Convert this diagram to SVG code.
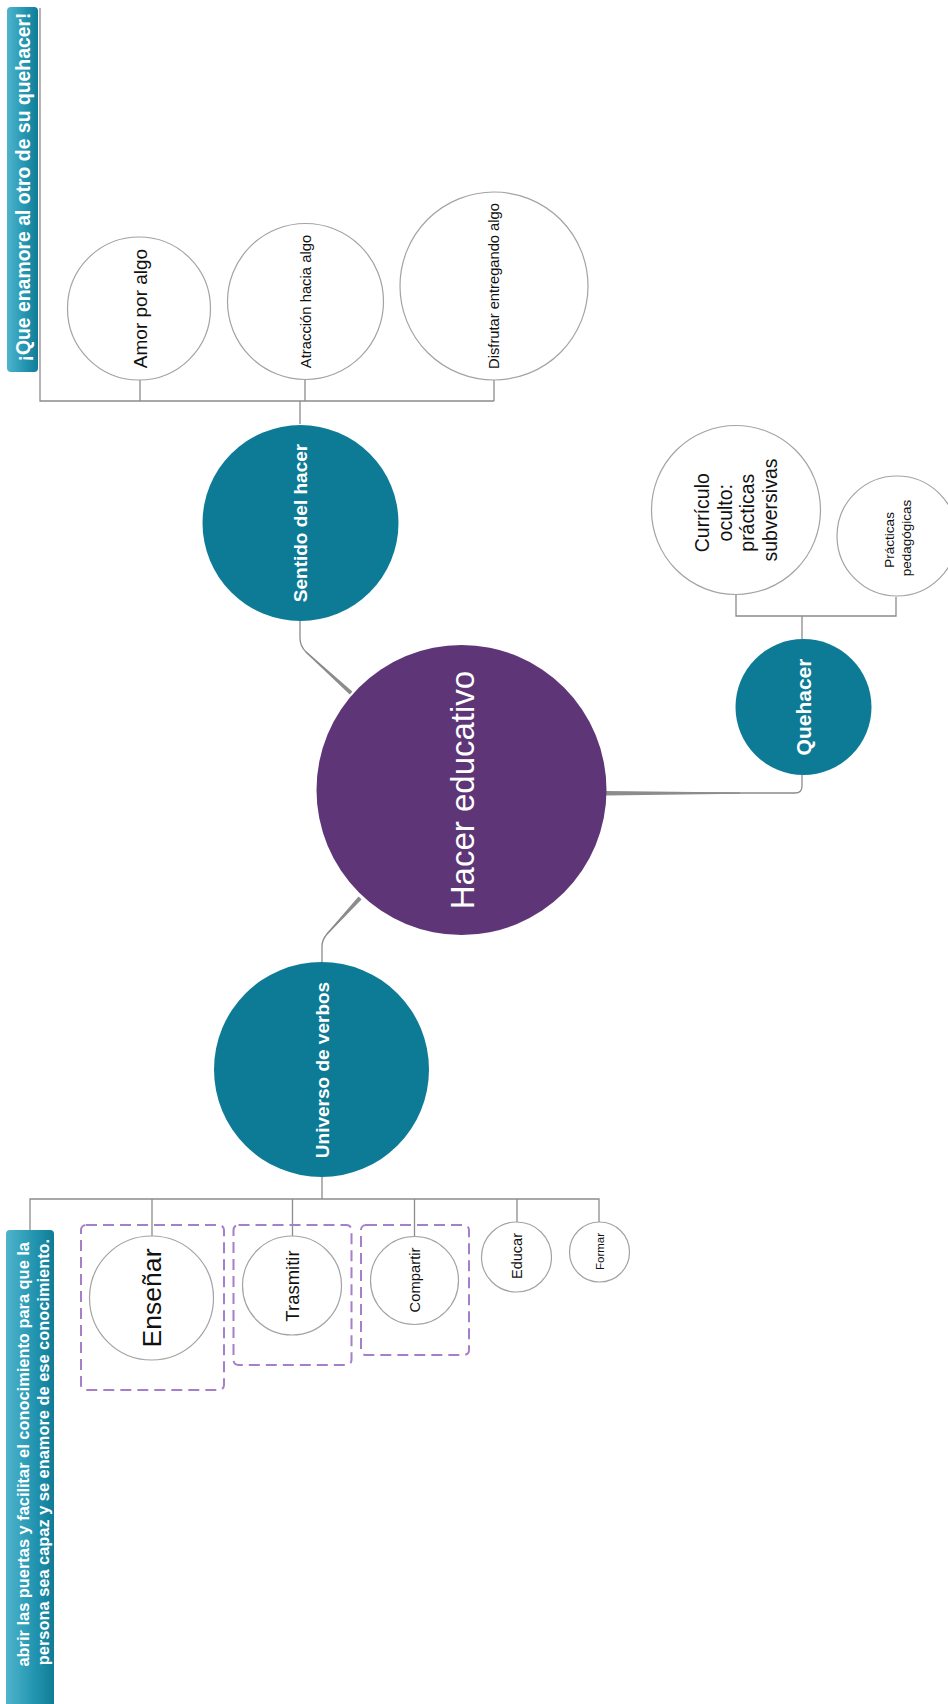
<svg xmlns="http://www.w3.org/2000/svg" width="948" height="1704" viewBox="0 0 948 1704">
  <defs>
    <linearGradient id="labelFill" x1="0" y1="0" x2="1" y2="0">
      <stop offset="0" stop-color="#4fb4cb"/>
      <stop offset="0.55" stop-color="#2597b2"/>
      <stop offset="1" stop-color="#0f7c97"/>
    </linearGradient>
    <style>
      .bg { fill: #ffffff; }
      .line { fill: none; stroke: #8c8c8c; stroke-width: 1.3; }
      .taper { fill: #8c8c8c; }
      .leaf { fill: #ffffff; stroke: #a3a3a3; stroke-width: 1.2; }
      .topic { fill: #0e7b96; }
      .central { fill: #5e3576; }
      .label { fill: url(#labelFill); }
      .group { fill: none; stroke: #a67fca; stroke-width: 2; stroke-dasharray: 11 6; }
      text { font-family: "Liberation Sans", Arial, sans-serif; text-anchor: middle; dominant-baseline: central; }
      .dark { fill: #111111; }
      .light { fill: #ffffff; }
      .bold { font-weight: bold; }
    </style>
  </defs>
  <rect class="bg" x="0" y="0" width="948" height="1704"/>

  <!-- connectors -->
  <g id="connectors">
    <!-- Sentido del hacer: children bracket -->
    <path class="line" d="M40,8 V401 H494 M140,380 V401 M305,380 V401 M494,380 V401 M300,401 V424"/>
    <!-- Sentido del hacer to center -->
    <path class="line" d="M300,621 V638 Q300,646 306,652 L351,693"/>
    <polygon class="taper" points="305.6,652.4 349.7,694.5 352.3,691.5 306.4,651.6"/>
    <!-- center to Universo de verbos -->
    <path class="line" d="M360,898 L327,934 Q322,940 322,946 V962"/>
    <polygon class="taper" points="358.5,896.6 361.5,899.4 327.4,934.4 326.6,933.6"/>
    <!-- center to Quehacer -->
    <path class="line" d="M606,793 H795 Q802,793 802,786 V775"/>
    <polygon class="taper" points="606,791 606,795.4 740,793.8 740,792.4"/>
    <!-- Quehacer: children bracket -->
    <path class="line" d="M802,639 V616 M736,595 V616 H896 V597"/>
    <!-- Universo de verbos: children bracket -->
    <path class="line" d="M322,1177 V1199 M30,1230 V1199 H599 V1222 M152,1199 V1236 M292.5,1199 V1236 M414.5,1199 V1237 M517,1199 V1222"/>
  </g>

  <!-- central topic -->
  <g id="hacer-educativo">
    <circle class="central" cx="461.5" cy="790" r="145"/>
    <text class="light" transform="translate(462,790) rotate(-90)" font-size="33">Hacer educativo</text>
  </g>

  <!-- main topics -->
  <g id="sentido-del-hacer">
    <circle class="topic" cx="300.5" cy="523" r="98"/>
    <text class="light bold" transform="translate(300,523) rotate(-90)" font-size="19">Sentido del hacer</text>
  </g>
  <g id="quehacer">
    <circle class="topic" cx="803.5" cy="707" r="68"/>
    <text class="light bold" transform="translate(803,707) rotate(-90)" font-size="21">Quehacer</text>
  </g>
  <g id="universo-de-verbos">
    <circle class="topic" cx="321.5" cy="1069.5" r="107.5"/>
    <text class="light bold" transform="translate(322,1070) rotate(-90)" font-size="19">Universo de verbos</text>
  </g>

  <!-- Sentido del hacer subtopics -->
  <g id="amor-por-algo">
    <circle class="leaf" cx="139" cy="308.5" r="71.5"/>
    <text class="dark" transform="translate(140,308.5) rotate(-90)" font-size="19">Amor por algo</text>
  </g>
  <g id="atraccion-hacia-algo">
    <circle class="leaf" cx="305.5" cy="301.5" r="78"/>
    <text class="dark" transform="translate(305.5,301.5) rotate(-90)" font-size="14.8">Atracción hacia algo</text>
  </g>
  <g id="disfrutar-entregando-algo">
    <circle class="leaf" cx="494" cy="286" r="94"/>
    <text class="dark" transform="translate(494,286) rotate(-90)" font-size="14.7">Disfrutar entregando algo</text>
  </g>
  <g id="label-quehacer">
    <rect class="label" x="7" y="7" width="31" height="365" rx="4"/>
    <text class="light bold" transform="translate(23,187) rotate(-90)" font-size="19.4">¡Que enamore al otro de su quehacer!</text>
  </g>

  <!-- Quehacer subtopics -->
  <g id="curriculo-oculto">
    <circle class="leaf" cx="736" cy="510" r="84.5"/>
    <text class="dark" transform="translate(736,510) rotate(-90)" font-size="19.5">
      <tspan x="0" y="-34">Currículo</tspan>
      <tspan x="0" y="-11.3">oculto:</tspan>
      <tspan x="0" y="11.3">prácticas</tspan>
      <tspan x="0" y="34">subversivas</tspan>
    </text>
  </g>
  <g id="practicas-pedagogicas">
    <circle class="leaf" cx="897" cy="536" r="60"/>
    <text class="dark" transform="translate(897,538) rotate(-90)" font-size="13.5">
      <tspan x="0" y="-8.5">Prácticas</tspan>
      <tspan x="0" y="8.5">pedagógicas</tspan>
    </text>
  </g>

  <!-- Universo de verbos subtopics -->
  <g id="label-conocimiento">
    <rect class="label" x="6" y="1230" width="48" height="490" rx="4"/>
    <text class="light bold" transform="translate(30,1452) rotate(-90)" font-size="16.4">
      <tspan x="0" y="-7">abrir las puertas y facilitar el conocimiento para que la</tspan>
      <tspan x="0" y="13">persona sea capaz y se enamore de ese conocimiento.</tspan>
    </text>
  </g>
  <g id="ensenar">
    <rect class="group" x="81" y="1225" width="143" height="165" rx="5"/>
    <circle class="leaf" cx="151.5" cy="1298" r="62"/>
    <text class="dark" transform="translate(151.5,1298) rotate(-90)" font-size="26.6">Enseñar</text>
  </g>
  <g id="trasmitir">
    <rect class="group" x="233.5" y="1225" width="118" height="140" rx="5"/>
    <circle class="leaf" cx="292" cy="1285.5" r="49.5"/>
    <text class="dark" transform="translate(292,1286) rotate(-90)" font-size="18.5">Trasmitir</text>
  </g>
  <g id="compartir">
    <rect class="group" x="361" y="1225" width="108" height="130" rx="5"/>
    <circle class="leaf" cx="414.5" cy="1280.5" r="44"/>
    <text class="dark" transform="translate(414.5,1280) rotate(-90)" font-size="14.8">Compartir</text>
  </g>
  <g id="educar">
    <circle class="leaf" cx="516.5" cy="1257" r="35"/>
    <text class="dark" transform="translate(517,1256) rotate(-90)" font-size="14.5">Educar</text>
  </g>
  <g id="formar">
    <circle class="leaf" cx="599.5" cy="1252" r="30"/>
    <text class="dark" transform="translate(599.5,1251.5) rotate(-90)" font-size="11.5">Formar</text>
  </g>
</svg>
